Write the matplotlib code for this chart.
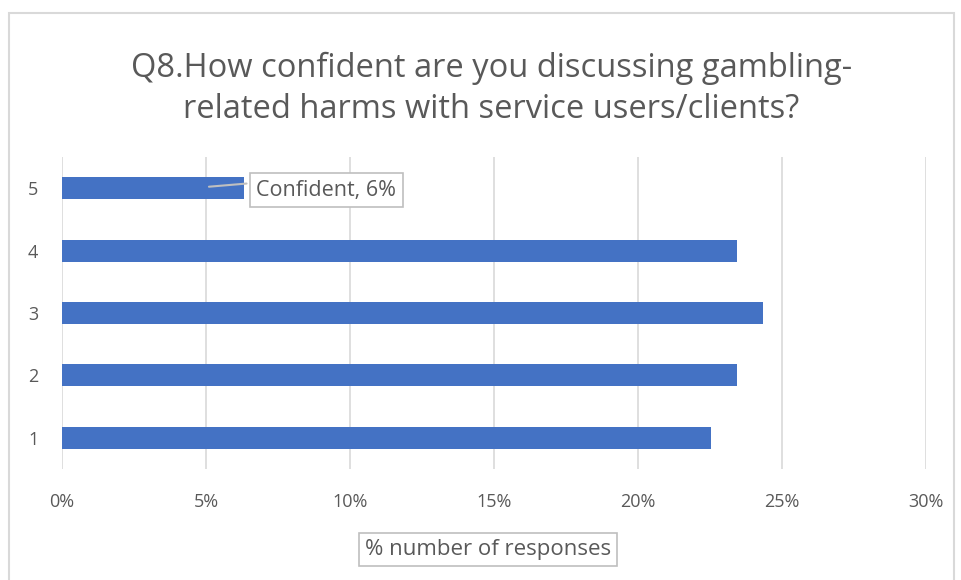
import matplotlib.pyplot as plt
from matplotlib.patches import Rectangle
from matplotlib.ticker import PercentFormatter

plt.rcParams['font.family'] = ['Open Sans', 'DejaVu Sans']

categories = ['1', '2', '3', '4', '5']
responses = [25, 26, 27, 26, 7]
total = sum(responses)
shares = [r / total for r in responses]

gray = '#595959'
grid_gray = '#d9d9d9'
bar_blue = '#4472C4'

fig = plt.figure(figsize=(9.62, 5.8), dpi=100)
fig.patches.append(Rectangle((9 / 962, -5 / 580), 945 / 962, 572 / 580,
                             transform=fig.transFigure, fill=False,
                             edgecolor='#d9d9d9', linewidth=1.5))

ax = fig.add_axes([62 / 962, 111 / 580, 864 / 962, 312 / 580])
ypos = range(1, len(categories) + 1)
ax.barh(list(ypos), shares, height=0.355, color=bar_blue, zorder=3)

ax.set_xlim(0, 0.30)
ax.set_ylim(0.5, 5.5)
ax.set_xticks([0, 0.05, 0.10, 0.15, 0.20, 0.25, 0.30])
ax.xaxis.set_major_formatter(PercentFormatter(1.0, decimals=0))
ax.set_yticks(list(ypos))
ax.set_yticklabels(categories)
ax.grid(axis='x', color=grid_gray, linewidth=1.2, zorder=0)
for s in ax.spines.values():
    s.set_visible(False)
ax.tick_params(length=0, colors=gray, labelsize=13)
ax.tick_params(axis='x', pad=17)
ax.tick_params(axis='y', pad=17)

fig.text(0.511, 1 - 89 / 580, 'Q8.How confident are you discussing gambling-\nrelated harms with service users/clients?',
         ha='center', va='center', fontsize=23.5, color=gray, linespacing=1.3)

fig.text(488 / 962, 1 - 549 / 580, '% number of responses', ha='center', va='center',
         fontsize=16, color=gray,
         bbox=dict(boxstyle='square,pad=0.27', facecolor='white', edgecolor='#bfbfbf', linewidth=1.2))

# callout on bar 5
ax.annotate(f'Confident, {shares[4]:.0%}', xy=(shares[4] - 0.013, 5.02),
            xytext=(0.0675, 4.97), ha='left', va='center', fontsize=15.5, color=gray,
            bbox=dict(boxstyle='square,pad=0.3', facecolor='white', edgecolor='#bfbfbf', linewidth=1.2),
            arrowprops=dict(arrowstyle='-', color='#bfbfbf', linewidth=1.5,
                            relpos=(0.0, 0.85)), zorder=5)

plt.savefig('out.png', dpi=100)
